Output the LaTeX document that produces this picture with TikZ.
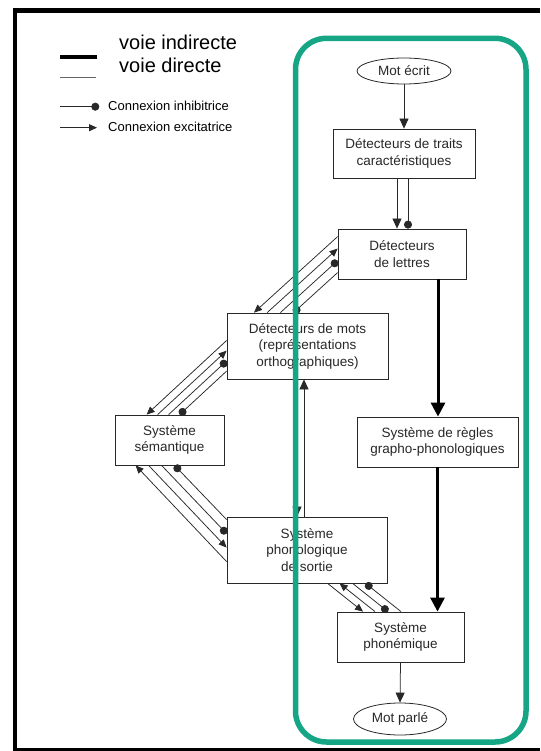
\documentclass[tikz,border=0pt]{standalone}
\usepackage{fontspec}
\setmainfont{Liberation Sans}
\usetikzlibrary{arrows.meta,shapes.geometric}
\definecolor{greenframe}{RGB}{22,166,134}
\definecolor{ink}{RGB}{40,40,40}
\begin{document}
\begin{tikzpicture}[x=1pt,y=-1pt,
  box/.style={draw=ink, line width=0.8pt, inner sep=0pt, align=center, text=ink, font=\fontsize{13.5}{16.5}\selectfont},
  oval/.style={ellipse, draw=ink, line width=0.8pt, inner sep=0pt, text=ink, font=\fontsize{13.5}{16}\selectfont},
  link/.style={draw=ink, line width=0.75pt},
  exc/.style={link, -{Triangle[width=7pt,length=8pt]}},
  inh/.style={link, -{Circle[length=8pt]}},
  excv/.style={link, -{Triangle[width=9pt,length=10pt]}},
  thickarrow/.style={draw=black, line width=3pt, -{Triangle[width=14pt,length=14pt]}},
  legtext/.style={anchor=base west, inner sep=0pt, text=black},
]
\useasboundingbox (0,0) rectangle (540,751);
\fill[white] (0,0) rectangle (540,751);
% page frame
\fill[black] (12.7,8.3) rectangle (17.3,750.7);
\fill[black] (12.7,8.3) rectangle (540,12.7);
\fill[black] (12.7,748) rectangle (540,750.5);

% legend
\draw[line width=4pt, black] (60,57.3) -- (97,57.3);
\draw[line width=1.2pt, black!60] (60,77.5) -- (96,77.5);
\node[legtext, font=\fontsize{20}{20}\selectfont] (lg1) at (119,49.3) {voie indirecte};
\node[legtext, font=\fontsize{20}{20}\selectfont] (lg2) at (119,72.7) {voie directe};
\coordinate (li1) at (60,106.7);
\coordinate (li2) at (99.3,106.7);
\coordinate (le1) at (60,127.7);
\coordinate (le2) at (97,127.7);
\draw[inh] (li1) -- (li2);
\draw[exc] (le1) -- (le2);
\node[legtext, font=\fontsize{13}{13}\selectfont] (lg3) at (108,110.7) {Connexion inhibitrice};
\node[legtext, font=\fontsize{13}{13}\selectfont] (lg4) at (108,131.7) {Connexion excitatrice};

% nodes
\node[oval, minimum width=94pt, minimum height=26pt] (motecrit) at (404,71) {Mot écrit};
\node[box, minimum width=142pt, minimum height=49pt] (traits) at (404,153.5) {Détecteurs de traits\\caractéristiques};
\node[box, minimum width=128pt, minimum height=50pt] (lettres) at (402,254) {Détecteurs\\de lettres};
\node[box, minimum width=161pt, minimum height=50pt] (regles) at (437.5,442) {Système de règles\\grapho-phonologiques};
\node[box, minimum width=127pt, minimum height=50pt] (phonemique) at (400.5,637) {Système\\phonémique};
\node[oval, minimum width=93pt, minimum height=32pt] (motparle) at (400,719) {Mot parlé};
\node[box, minimum width=161pt, minimum height=66pt] (mots) at (307.5,346) {Détecteurs de mots\\(représentations\\orthographiques)};
\node[box, minimum width=109pt, minimum height=50pt] (semantique) at (169.5,440) {Système\\sémantique};
\node[box, minimum width=160pt, minimum height=66pt] (phono) at (307,550) {Système\\phonologique\\de sortie};

% vertical connectors
\draw[excv] (motecrit.south) -- (traits.north);
\draw[excv] ([xshift=-7pt]traits.south) -- ([xshift=-7pt]traits.south |- lettres.north);
\draw[inh] ([xshift=4pt]traits.south) -- ([xshift=4pt]traits.south |- lettres.north);
\draw[thickarrow] ([xshift=36pt]lettres.south) -- ([xshift=36pt]lettres.south |- regles.north);
\draw[thickarrow] (regles.south) -- (regles.south |- phonemique.north);
\draw[excv] (phonemique.south) -- (motparle.north);
\draw[excv] ([xshift=-10.5pt]mots.south) -- ([xshift=-10.5pt]mots.south |- phono.north);
\draw[excv] ([xshift=-3.5pt]mots.south |- phono.north) -- ([xshift=-3.5pt]mots.south);

% bundle lettres <-> mots
\draw[exc] ([yshift=-8pt]lettres.north west) -- ([xshift=27.4pt]mots.north west);
\draw[exc] ([xshift=40.6pt]mots.north west) -- ([yshift=-20pt]lettres.north west);
\draw[inh] ([xshift=53.8pt]mots.north west) -- ([yshift=-32pt]lettres.north west);
\draw[inh] ([yshift=-44pt]lettres.north west) -- ([xshift=67pt]mots.north west);

% bundle mots <-> semantique
\draw[exc] ([yshift=-27.9pt]mots.north west) -- ([xshift=32pt]semantique.north west);
\draw[exc] ([xshift=43pt]semantique.north west) -- ([yshift=-38.1pt]mots.north west);
\draw[inh] ([xshift=54pt]semantique.north west) -- ([yshift=-48.3pt]mots.north west);
\draw[inh] ([yshift=-58.5pt]mots.north west) -- ([xshift=65pt]semantique.north west);

% bundle semantique <-> phono
\draw[exc] ([yshift=-45pt]phono.north west) -- ([xshift=21pt]semantique.south west);
\draw[exc] ([xshift=34pt]semantique.south west) -- ([yshift=-31pt]phono.north west);
\draw[inh] ([xshift=47pt]semantique.south west) -- ([yshift=-17pt]phono.north west);
\draw[inh] ([yshift=-3pt]phono.north west) -- ([xshift=60pt]semantique.south west);

% bundle phono <-> phonemique
\draw[exc] ([xshift=101pt]phono.south west) -- ([xshift=26.4pt]phonemique.north west);
\draw[exc] ([xshift=38.4pt]phonemique.north west) -- ([xshift=113pt]phono.south west);
\draw[inh] ([xshift=126pt]phono.south west) -- ([xshift=51.4pt]phonemique.north west);
\draw[inh] ([xshift=64.4pt]phonemique.north west) -- ([xshift=139pt]phono.south west);

% green frame
\draw[draw=greenframe, line width=5.5pt, rounded corners=31pt] (295.5,38.3) rectangle (526,742);
\end{tikzpicture}
\end{document}
